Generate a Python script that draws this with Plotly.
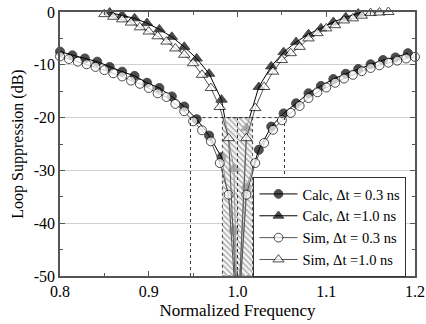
import plotly.graph_objects as go

# ---- data ----
calc_x = [0.800, 0.814, 0.828, 0.842, 0.856, 0.870, 0.884, 0.898, 0.912, 0.926,
          0.940, 0.954, 0.968, 0.982, 0.996, 1.000, 1.010, 1.024, 1.038, 1.052,
          1.066, 1.080, 1.094, 1.108, 1.122, 1.136, 1.150, 1.164, 1.178, 1.192]
calc03_y = [-7.5, -8.2, -8.8, -9.4, -10.4, -11.3, -12.1, -13.4, -14.4, -16.0,
            -17.9, -20.3, -23.4, -27.5, -41.3, -60.0, -33.3, -26.1, -21.7, -19.2,
            -17.3, -15.4, -14.0, -12.7, -11.7, -10.8, -9.9, -9.1, -8.6, -7.8]

calc10_x = [0.856, 0.870, 0.884, 0.898, 0.912, 0.926, 0.940, 0.954, 0.968, 0.982,
            0.996, 1.000, 1.010, 1.024, 1.038, 1.052, 1.066, 1.080, 1.094, 1.108,
            1.122, 1.136, 1.150]
calc10_y = [-0.1, -0.6, -1.2, -2.1, -3.3, -4.7, -6.6, -8.8, -11.7, -16.6,
            -29.7, -60.0, -22.0, -14.2, -10.3, -7.6, -5.7, -4.2, -3.1, -1.9,
            -1.0, -0.3, 0.5]

sim03_x = [0.80, 0.81, 0.82, 0.83, 0.84, 0.85, 0.86, 0.87, 0.88, 0.89,
           0.90, 0.91, 0.92, 0.93, 0.94, 0.95, 0.96, 0.97, 0.98, 0.99,
           1.00, 1.01, 1.02, 1.03, 1.04, 1.05, 1.06, 1.07, 1.08, 1.09,
           1.10, 1.11, 1.12, 1.13, 1.14, 1.15, 1.16, 1.17, 1.18, 1.19, 1.20]
sim03_y = [-8.4, -8.9, -9.4, -9.9, -10.4, -11.0, -11.6, -12.2, -13.0, -13.6,
           -14.4, -15.4, -16.1, -17.4, -18.8, -20.7, -22.4, -24.5, -28.6, -34.6,
           -60.0, -34.6, -28.6, -24.8, -22.3, -20.5, -19.1, -17.8, -16.3, -15.2,
           -14.3, -13.4, -12.6, -11.9, -11.2, -10.6, -10.1, -9.6, -9.2, -8.8, -8.5]

sim10_x = [0.83, 0.84, 0.85, 0.86, 0.87, 0.88, 0.89, 0.90, 0.91, 0.92,
           0.93, 0.94, 0.95, 0.96, 0.97, 0.98, 0.99, 1.00, 1.01, 1.02,
           1.03, 1.04, 1.05, 1.06, 1.07, 1.08, 1.09, 1.10, 1.11, 1.12,
           1.13, 1.14, 1.15, 1.16, 1.17]
sim10_y = [0.4, 0.9, -0.4, -0.9, -1.4, -2.0, -2.9, -3.7, -4.6, -5.6,
           -6.9, -8.1, -9.7, -11.9, -14.4, -18.0, -23.9, -60.0, -23.9, -18.2,
           -14.2, -11.3, -9.1, -7.8, -6.6, -5.0, -4.0, -3.1, -2.5, -1.6,
           -1.2, -0.7, -0.2, -0.1, 0.0]

x_ticks = [0.8, 0.9, 1.0, 1.1, 1.2]
x_labels = ["0.8", "0.9", "1.0", "1.1", "1.2"]
y_ticks = [0, -10, -20, -30, -40, -50]
y_labels = ["0", "-10", "-20", "-30", "-40", "-50"]

band_x = [0.983, 1.017]      # hatched resonance band
band_y = [-50, -20]
box_x = [0.947, 1.053]       # dotted -20 dB bandwidth box
names = ["Calc, Δt = 0.3 ns", "Calc, Δt =1.0 ns", "Sim, Δt = 0.3 ns", "Sim, Δt =1.0 ns"]


def sizes(ys, s):
    return [0 if y < -50 else s for y in ys]


FONT = "'Liberation Serif', 'Times New Roman', serif"
fig = go.Figure()

fig.add_trace(go.Scatter(
    x=calc_x, y=calc03_y, mode="lines+markers", name=names[0],
    line=dict(color="black", width=1),
    marker=dict(symbol="circle", size=sizes(calc03_y, 9), color="black",
                line=dict(color="black", width=1)),
    cliponaxis=False))
fig.add_trace(go.Scatter(
    x=calc10_x, y=calc10_y, mode="lines+markers", name=names[1],
    line=dict(color="black", width=1),
    marker=dict(symbol="triangle-up", size=sizes(calc10_y, 10), color="black",
                line=dict(color="black", width=1)),
    cliponaxis=False))

# hatched band (drawn over Calc, under Sim)
fig.add_trace(go.Scatter(
    x=[band_x[0], band_x[1], band_x[1], band_x[0], band_x[0]],
    y=[band_y[0], band_y[0], band_y[1], band_y[1], band_y[0]],
    mode="lines", fill="toself", showlegend=False, hoverinfo="skip",
    line=dict(color="#444", width=1, dash="dot"),
    fillpattern=dict(shape="\\", fgcolor="#a0a0a0", bgcolor="rgba(240,240,240,0.6)",
                     size=4, solidity=0.3)))

fig.add_trace(go.Scatter(
    x=sim03_x, y=sim03_y, mode="lines+markers", name=names[2],
    line=dict(color="#555", width=1),
    marker=dict(symbol="circle", size=sizes(sim03_y, 9), color="white",
                line=dict(color="black", width=1)),
    cliponaxis=False))
fig.add_trace(go.Scatter(
    x=sim10_x, y=sim10_y, mode="lines+markers", name=names[3],
    line=dict(color="#555", width=1),
    marker=dict(symbol="triangle-up", size=sizes(sim10_y, 10), color="white",
                line=dict(color="black", width=1)),
    cliponaxis=False))

dot = dict(color="#333", width=1, dash="dot")
shapes = [
    dict(type="line", x0=box_x[0], x1=box_x[0], y0=-50, y1=-20, line=dot),
    dict(type="line", x0=box_x[1], x1=box_x[1], y0=-50, y1=-20, line=dot),
    dict(type="line", x0=box_x[0], x1=box_x[1], y0=-20, y1=-20, line=dot),
    dict(type="line", x0=1.0, x1=1.0, y0=-50, y1=-20, line=dot),
]

fig.update_layout(
    template="none",
    width=426, height=324,
    margin=dict(l=60, r=11, t=12, b=48, autoexpand=False),
    paper_bgcolor="white", plot_bgcolor="white",
    font=dict(family=FONT, size=16, color="black"),
    shapes=shapes,
    showlegend=True,
    legend=dict(x=0.545, y=0.375, xanchor="left", yanchor="top",
                bgcolor="white", bordercolor="#333", borderwidth=1,
                font=dict(family=FONT, size=14.5), tracegroupgap=0,
                itemwidth=38),
)
fig.update_xaxes(
    range=[0.8, 1.2], tickvals=x_ticks, ticktext=x_labels, automargin=False,
    ticklabeloverflow="allow",
    showgrid=False, zeroline=False,
    showline=True, linecolor="#555", linewidth=1.5, mirror="ticks",
    ticks="inside", ticklen=5, tickcolor="#555", tickfont=dict(family=FONT, size=16),
    minor=dict(ticks="inside", ticklen=3, dtick=0.05, tickcolor="#555", showgrid=False),
    title=dict(text="Normalized Frequency", standoff=5, font=dict(family=FONT, size=17)),
)
fig.update_yaxes(
    range=[-50, 0], tickvals=y_ticks, ticktext=y_labels, automargin=False,
    ticklabeloverflow="allow",
    showgrid=True, gridcolor="#d0d0d0", gridwidth=1, zeroline=False,
    showline=True, linecolor="#555", linewidth=1.5, mirror="ticks",
    ticks="inside", ticklen=5, tickcolor="#555", tickfont=dict(family=FONT, size=16),
    minor=dict(ticks="inside", ticklen=3, dtick=5, tickcolor="#555", showgrid=False),
    title=dict(text="Loop Suppression (dB)", standoff=6, font=dict(family=FONT, size=16)),
)

# remove the browser's default 8px body margin so the figure fills the window
fig.write_html("out.html", config={"displayModeBar": False},
               post_script="document.body.style.margin='0';")
